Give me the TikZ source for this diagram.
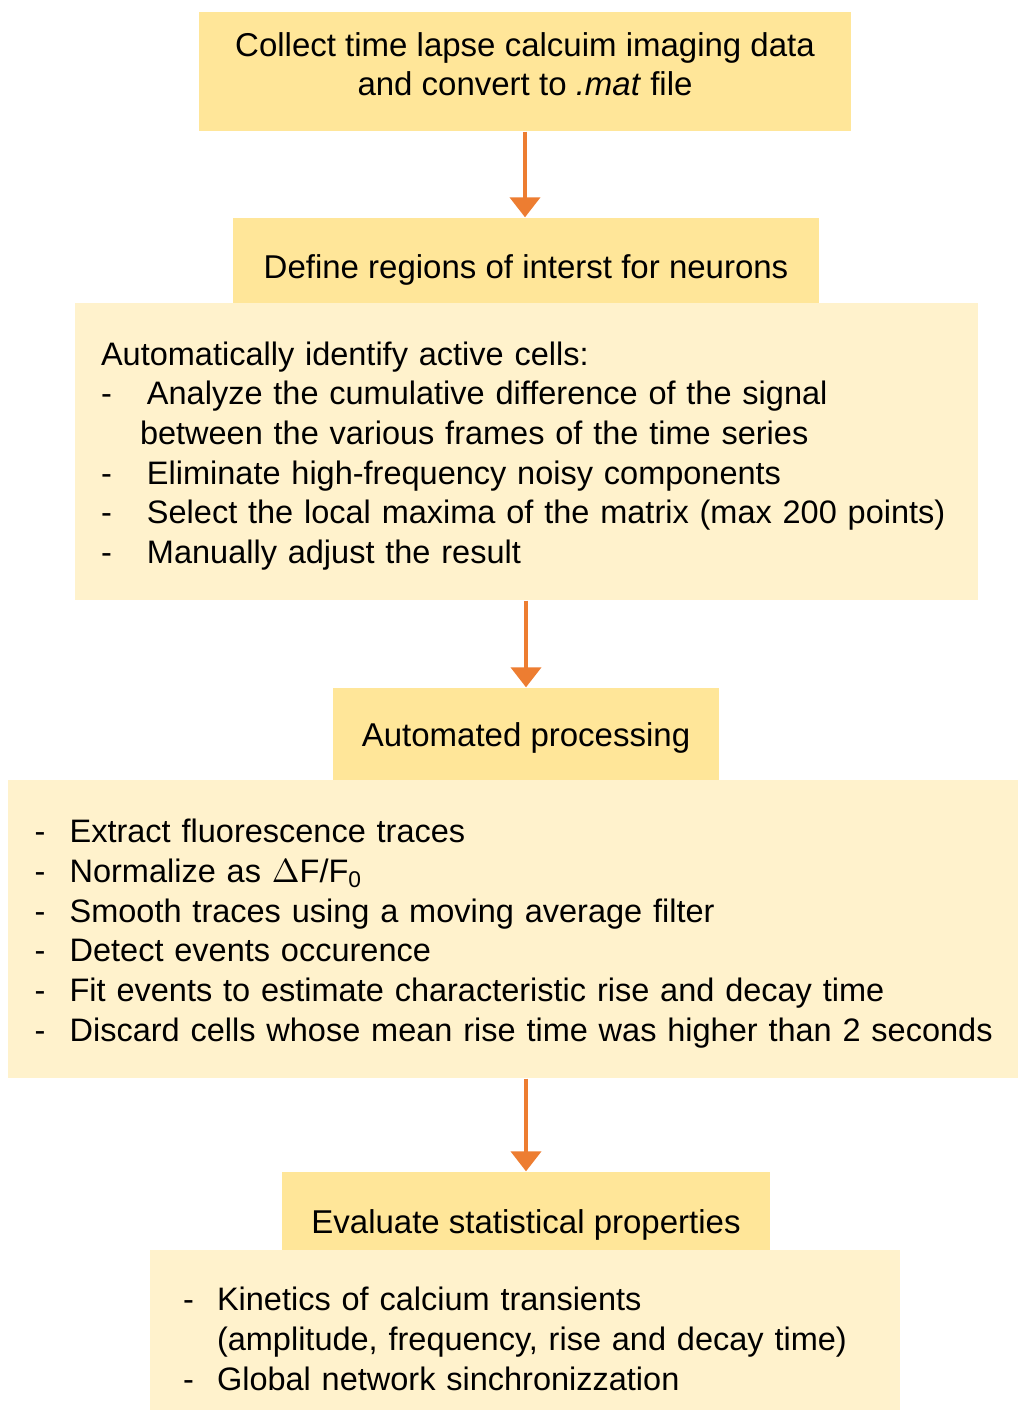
\documentclass[tikz,border=0pt]{standalone}
\usepackage{fontspec}
\setmainfont{Liberation Sans}
\usetikzlibrary{positioning}
\usetikzlibrary{arrows.meta}

\definecolor{headfill}{HTML}{FFE699}
\definecolor{bodyfill}{HTML}{FFF2CC}
\definecolor{flowcol}{HTML}{ED7D31}

\newcommand{\headsize}{\fontsize{9.9}{11.9}\selectfont}
\newcommand{\bodysize}{\fontsize{9.75}{11.9}\selectfont}
\newcommand{\itm}[2][12.6pt]{\mbox{\makebox[#1][l]{-}#2}}

\tikzset{
  head/.style={fill=headfill, inner sep=0pt, align=center, font=\headsize},
  lowtext/.style={text height=#1, text depth=2pt},
  body/.style={fill=bodyfill, inner ysep=0pt, align=left, font=\bodysize},
  flow/.style={draw=flowcol, line width=1.2pt, -{Triangle[width=9pt,length=6pt]}},
}

\begin{document}
\begin{tikzpicture}[x=0.3pt, y={(0pt,-0.3pt)}]
\useasboundingbox (0,0) rectangle (1018,1412);

% step 1
\node[head, text depth=4.5pt, minimum width=195.6pt, minimum height=35.7pt] (collect) at (525,71.5)
  {Collect time lapse calcuim imaging data\\ and convert to \textit{.mat} file};

% step 2
\node[head, lowtext=13pt, minimum width=175.8pt, minimum height=25.5pt] (define) at (526,260.5)
  {Define regions of interst for neurons};
\node[body, minimum width=270.9pt, minimum height=89.1pt, text width=255.3pt, inner xsep=7.8pt] (identify) at (526.5,451.5)
  {\rule{0pt}{9.8pt}\mbox{Automatically identify active cells:}\\
   \itm[13.8pt]{Analyze the cumulative difference of the signal}\\
   \mbox{\hspace*{11.7pt}between the various frames of the time series}\\
   \itm[13.8pt]{Eliminate high-frequency noisy components}\\
   \itm[13.8pt]{Select the local maxima of the matrix (max 200 points)}\\
   \itm[13.8pt]{Manually adjust the result}};

% step 3
\node[head, lowtext=9.6pt, minimum width=115.8pt, minimum height=27.6pt] (auto) at (526,734)
  {Automated processing};
\node[body, minimum width=303pt, minimum height=89.4pt, text width=287pt, inner xsep=8pt] (process) at (513,929)
  {\rule{0pt}{9.8pt}\itm[10.5pt]{Extract fluorescence traces}\\
   \itm[10.5pt]{Normalize as $\Delta$F/F\textsubscript{0}}\\
   \itm[10.5pt]{Smooth traces using a moving average filter}\\
   \itm[10.5pt]{Detect events occurence}\\
   \itm[10.5pt]{Fit events to estimate characteristic rise and decay time}\\
   \itm[10.5pt]{Discard cells whose mean rise time was higher than 2 seconds}};

% step 4
\node[head, lowtext=15.2pt, minimum width=146.4pt, minimum height=23.4pt] (evaluate) at (526,1211)
  {Evaluate statistical properties};
\node[body, minimum width=225pt, minimum height=48pt, text width=205.2pt, inner xsep=9.9pt] (stats) at (525,1330)
  {\rule{0pt}{12.3pt}\itm[10.2pt]{Kinetics of calcium transients}\\
   \mbox{\hspace*{10.2pt}(amplitude, frequency, rise and decay time)}\\
   \itm[10.2pt]{Global network sinchronizzation}};

% arrows
\draw[flow] (collect.south) -- (collect.south |- define.north);
\draw[flow] (identify.south -| auto.north) -- (auto.north);
\draw[flow] (process.south -| evaluate.north) -- (evaluate.north);
\end{tikzpicture}
\end{document}
